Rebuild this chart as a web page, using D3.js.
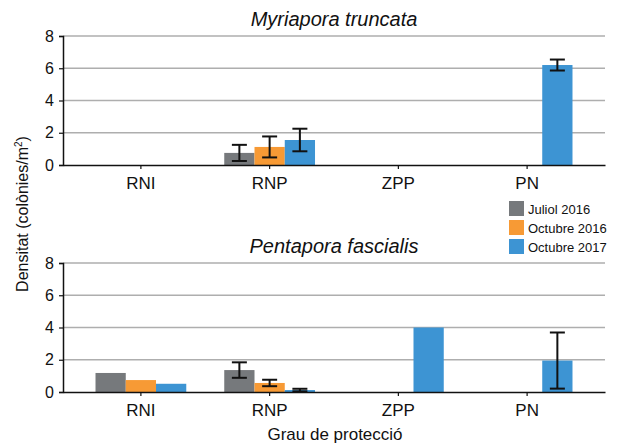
<!DOCTYPE html>
<html lang="ca">
<head>
  <meta charset="UTF-8">
  <title>Densitat de colònies</title>
  <script src="https://d3js.org/d3.v7.min.js"></script>
  <style>
    body {
      margin: 0;
      padding: 0;
      background: #fff;
      font-family: "Liberation Sans", Arial, Helvetica, sans-serif;
    }
  </style>
</head>
<body>
  <script>
    // data
    const categories = ["RNI", "RNP", "ZPP", "PN"];
    const seriesNames = ["Juliol 2016", "Octubre 2016", "Octubre 2017"];
    const seriesColors = ["#76797c", "#f79a35", "#3d94d3"];
    const yTicks = [0, 2, 4, 6, 8];

    // Myriapora truncata (mean and error half-width per series)
    const myriaJul16 = [0, 0.75, 0, 0];
    const myriaOct16 = [0, 1.12, 0, 0];
    const myriaOct17 = [0, 1.55, 0, 6.2];
    const myriaErrJul16 = [null, 0.5, null, null];
    const myriaErrOct16 = [null, 0.65, null, null];
    const myriaErrOct17 = [null, 0.7, null, 0.34];

    // Pentapora fascialis
    const pentaJul16 = [1.18, 1.36, 0, 0];
    const pentaOct16 = [0.74, 0.56, 0, 0];
    const pentaOct17 = [0.51, 0.12, 4.0, 1.95];
    const pentaErrJul16 = [null, 0.48, null, null];
    const pentaErrOct16 = [null, 0.2, null, null];
    const pentaErrOct17 = [null, 0.08, null, 1.74];

    const panels = [
      { title: "Myriapora truncata", top: 36, bottom: 165,
        values: [myriaJul16, myriaOct16, myriaOct17],
        errors: [myriaErrJul16, myriaErrOct16, myriaErrOct17] },
      { title: "Pentapora fascialis", top: 263, bottom: 392,
        values: [pentaJul16, pentaOct16, pentaOct17],
        errors: [pentaErrJul16, pentaErrOct16, pentaErrOct17] }
    ];

    const width = 623;
    const height = 444;
    const left = 63, right = 605;

    const svg = d3.create("svg")
        .attr("width", width)
        .attr("height", height)
        .attr("viewBox", [0, 0, width, height]);

    const x = d3.scaleBand()
        .domain(categories)
        .range([left, right])
        .paddingInner(0)
        .paddingOuter(0.105);

    const xs = d3.scaleBand()
        .domain(seriesNames)
        .range([0, x.bandwidth() * 0.705])
        .padding(0);

    const color = d3.scaleOrdinal().domain(seriesNames).range(seriesColors);

    panels.forEach(p => {
      const y = d3.scaleLinear().domain([0, 8]).range([p.bottom, p.top]);
      const g = svg.append("g");

      // gridlines
      g.append("g")
        .selectAll("line")
        .data(yTicks.filter(t => t > 0))
        .join("line")
          .attr("x1", left)
          .attr("x2", right)
          .attr("y1", d => y(d))
          .attr("y2", d => y(d))
          .attr("stroke", "#aeaeae")
          .attr("stroke-width", 1.5);

      // bars
      const rows = [];
      p.values.forEach((vals, si) => {
        vals.forEach((v, ci) => {
          rows.push({ cat: categories[ci], series: seriesNames[si], value: v, err: p.errors[si][ci] });
        });
      });

      const groupOffset = (x.bandwidth() - xs.range()[1]) / 2;

      g.append("g")
        .selectAll("rect")
        .data(rows.filter(d => d.value > 0))
        .join("rect")
          .attr("x", d => x(d.cat) + groupOffset + xs(d.series))
          .attr("width", xs.bandwidth())
          .attr("y", d => y(d.value))
          .attr("height", d => y(0) - y(d.value))
          .attr("fill", d => color(d.series));

      // error bars
      const eb = g.append("g")
          .attr("stroke", "#111")
          .attr("stroke-width", 2)
        .selectAll("g")
        .data(rows.filter(d => d.err != null))
        .join("g")
          .attr("transform", d => `translate(${x(d.cat) + groupOffset + xs(d.series) + xs.bandwidth() / 2},0)`);

      eb.append("line")
          .attr("y1", d => y(d.value - d.err))
          .attr("y2", d => y(d.value + d.err));
      eb.append("line")
          .attr("x1", -7.5).attr("x2", 7.5)
          .attr("y1", d => y(d.value + d.err))
          .attr("y2", d => y(d.value + d.err));
      eb.append("line")
          .attr("x1", -7.5).attr("x2", 7.5)
          .attr("y1", d => y(d.value - d.err))
          .attr("y2", d => y(d.value - d.err));

      // y axis
      const yAxis = g.append("g")
          .attr("transform", `translate(${left},0)`)
          .call(d3.axisLeft(y).tickValues(yTicks).tickSize(4).tickPadding(5));
      yAxis.select(".domain").attr("stroke", "#111").attr("stroke-width", 1.5);
      yAxis.selectAll(".tick line").attr("stroke", "#111").attr("stroke-width", 1.2);
      yAxis.selectAll("text")
          .attr("font-family", "'Liberation Sans', Arial, sans-serif")
          .attr("font-size", 16)
          .attr("fill", "#111");

      // x axis
      const xAxis = g.append("g")
          .attr("transform", `translate(0,${p.bottom})`)
          .call(d3.axisBottom(x).tickSizeInner(4).tickSizeOuter(0).tickPadding(8));
      xAxis.select(".domain").attr("stroke", "#111").attr("stroke-width", 1.5);
      xAxis.selectAll(".tick line").attr("stroke", "#111").attr("stroke-width", 1.2);
      xAxis.selectAll("text")
          .attr("font-family", "'Liberation Sans', Arial, sans-serif")
          .attr("font-size", 17)
          .attr("fill", "#111");

      // title
      svg.append("text")
          .attr("x", 334)
          .attr("y", p.top - 10)
          .attr("text-anchor", "middle")
          .attr("font-style", "italic")
          .attr("font-size", 20)
          .attr("fill", "#111")
          .text(p.title);
    });

    // legend
    const legend = svg.append("g")
        .attr("transform", "translate(509,201)")
      .selectAll("g")
      .data(seriesNames)
      .join("g")
        .attr("transform", (d, i) => `translate(0,${i * 19})`);

    legend.append("rect")
        .attr("width", 15)
        .attr("height", 15)
        .attr("fill", d => color(d));
    legend.append("text")
        .attr("x", 19)
        .attr("y", 12.5)
        .attr("font-size", 13)
        .attr("fill", "#111")
        .text(d => d);

    // axis titles
    svg.append("text")
        .attr("x", 335)
        .attr("y", 440)
        .attr("text-anchor", "middle")
        .attr("font-size", 17)
        .attr("fill", "#111")
        .text("Grau de protecció");

    const yLabel = svg.append("text")
        .attr("transform", "translate(28,214) rotate(-90)")
        .attr("text-anchor", "middle")
        .attr("font-size", 16)
        .attr("fill", "#111");
    yLabel.append("tspan").text("Densitat (colònies/m");
    yLabel.append("tspan").attr("font-size", 10).attr("dy", -6).text("2");
    yLabel.append("tspan").attr("dy", 6).text(")");

    document.body.appendChild(svg.node());
  </script>
</body>
</html>
